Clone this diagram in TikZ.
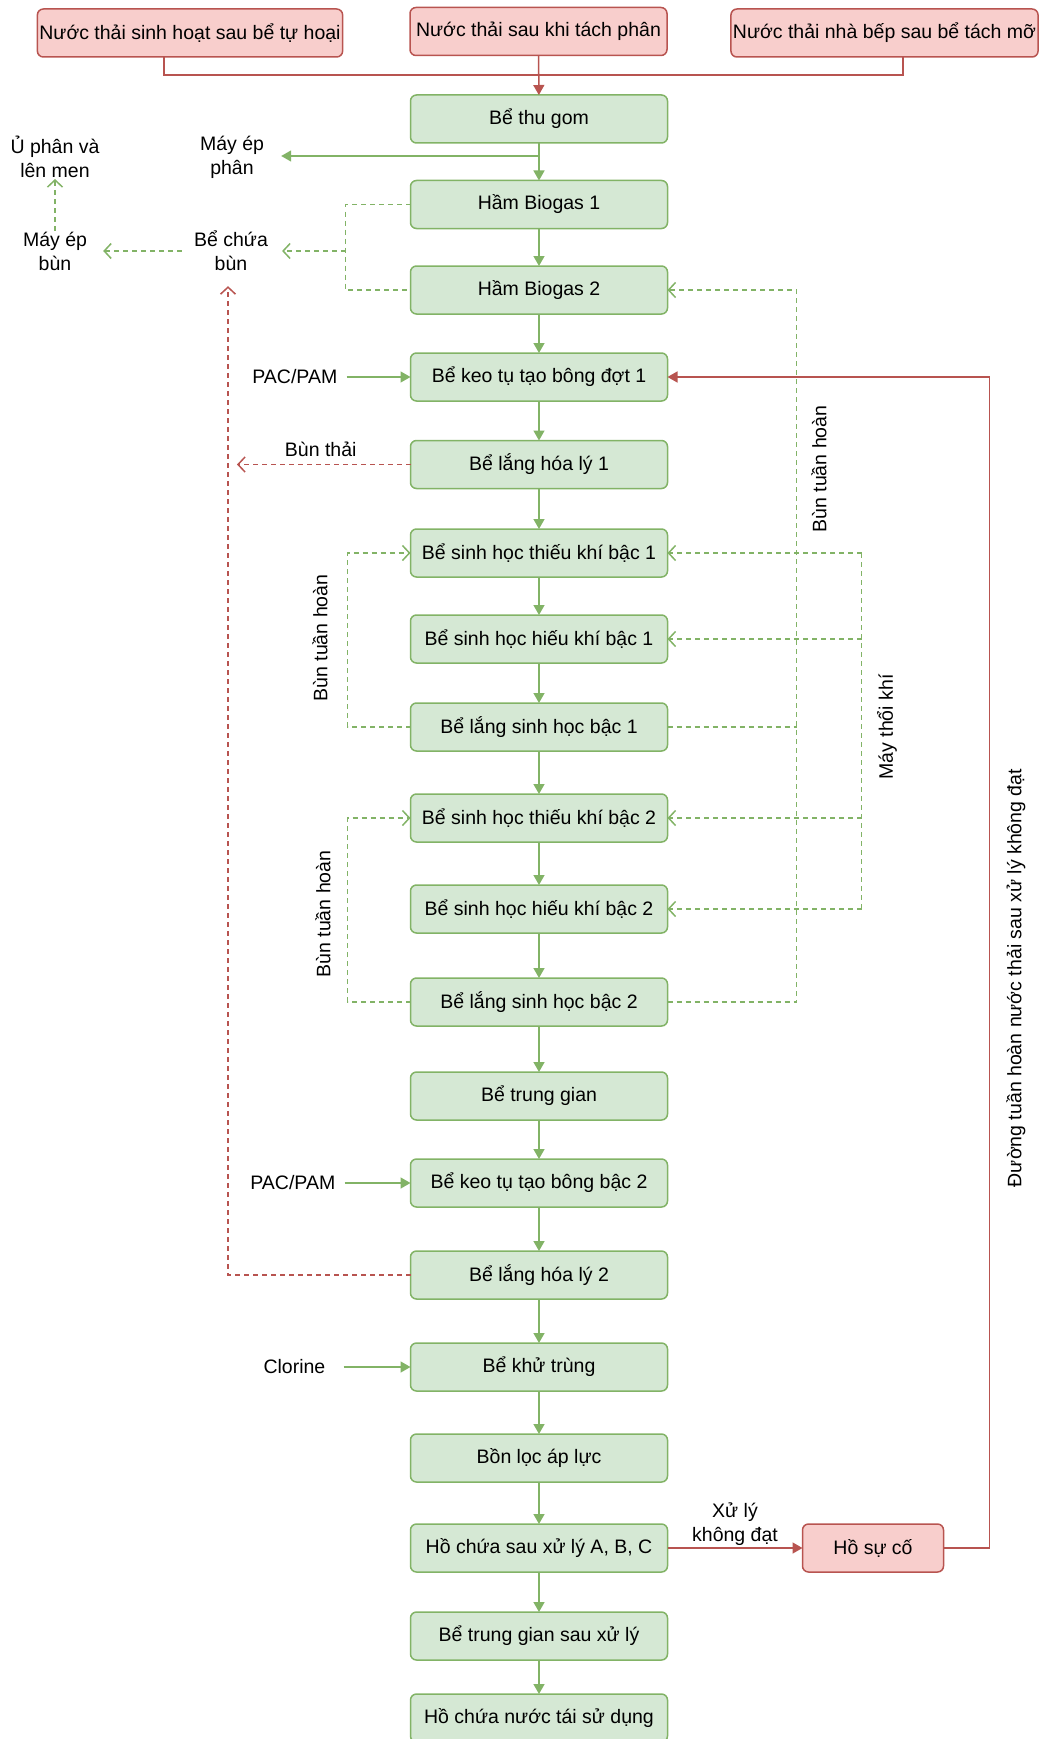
\documentclass[tikz,border=0pt]{standalone}
\usepackage{fontspec}
\setmainfont{Liberation Sans}
\usetikzlibrary{arrows.meta,positioning}
\definecolor{gfill}{HTML}{D5E8D4}
\definecolor{gline}{HTML}{82B366}
\definecolor{rfill}{HTML}{F8CECC}
\definecolor{rline}{HTML}{B85450}

\begin{document}
\begin{tikzpicture}[
		x=1pt, y=-1pt,
		font=\fontsize{19.5}{24}\selectfont,
		block/.style={draw=gline, fill=gfill, line width=1.5pt, rounded corners=6pt, minimum width=257pt, minimum height=48pt, inner sep=2pt, outer sep=0pt},
		src/.style={draw=rline, fill=rfill, line width=1.5pt, rounded corners=6pt, minimum height=48pt, inner sep=2pt, outer sep=0pt},
		note/.style={align=center, inner sep=1pt},
		flow/.style={draw=gline, line width=1.5pt, -{Triangle[length=10pt, width=11pt]}},
		dashline/.style={draw=gline, line width=1.5pt, dash pattern=on 5pt off 4pt},
		sludge/.style={dashline, -{Straight Barb[length=7pt, width=15pt]}},
		redline/.style={draw=rline, line width=1.5pt},
		redflow/.style={redline, -{Triangle[length=10pt, width=11pt]}},
		reddash/.style={redline, dash pattern=on 5pt off 4pt, -{Straight Barb[length=7pt, width=15pt]}},
	]
		\useasboundingbox (0,0) rectangle (1039,1739);
		
		\node[src, minimum width=304pt] (src1) at (190,33) {Nước thải sinh hoạt sau bể tự hoại};
		\node[src, minimum width=257pt] (src2) at (538.5,31.5) {Nước thải sau khi tách phân};
		\node[src, minimum width=305pt] (src3) at (884.5,33) {Nước thải nhà bếp sau bể tách mỡ};
		
		\node[block] (thugom) at (539,119) {Bể thu gom};
		\node[block, below=37.5pt of thugom] (hb1) {Hầm Biogas 1};
		\node[block, below=37.5pt of hb1] (hb2) {Hầm Biogas 2};
		\node[block, below=39pt of hb2] (keo1) {Bể keo tụ tạo bông đợt 1};
		\node[block, below=39.5pt of keo1] (lang1) {Bể lắng hóa lý 1};
		\node[block, below=40.5pt of lang1] (thieu1) {Bể sinh học thiếu khí bậc 1};
		\node[block, below=38pt of thieu1] (hieu1) {Bể sinh học hiếu khí bậc 1};
		\node[block, below=40pt of hieu1] (langsh1) {Bể lắng sinh học bậc 1};
		\node[block, below=43pt of langsh1] (thieu2) {Bể sinh học thiếu khí bậc 2};
		\node[block, below=43pt of thieu2] (hieu2) {Bể sinh học hiếu khí bậc 2};
		\node[block, below=45pt of hieu2] (langsh2) {Bể lắng sinh học bậc 2};
		\node[block, below=46pt of langsh2] (trunggian) {Bể trung gian};
		\node[block, below=39pt of trunggian] (keo2) {Bể keo tụ tạo bông bậc 2};
		\node[block, below=44pt of keo2] (lang2) {Bể lắng hóa lý 2};
		\node[block, below=44pt of lang2] (khutrung) {Bể khử trùng};
		\node[block, below=43pt of khutrung] (bonloc) {Bồn lọc áp lực};
		\node[block, below=42pt of bonloc] (hochua) {Hồ chứa sau xử lý A, B, C};
		\node[block, below=40pt of hochua] (tgsau) {Bể trung gian sau xử lý};
		\node[block, below=34pt of tgsau] (taisd) {Hồ chứa nước tái sử dụng};
		
		\node[src, minimum width=141pt, right=135pt of hochua] (suco) {Hồ sự cố};
		
		% side labels
		\node[note] (uphan) at (55,157) {Ủ phân và\\lên men};
		\node[note] (mayep) at (232,157.5) {Máy ép\\phân};
		\node[note] (mayepbun) at (55,251) {Máy ép\\bùn};
		\node[note] (bechua) at (231,251) {Bể chứa\\bùn};
		\node[note, left=72pt of keo1] (pac1) {PAC/PAM};
		\node[note, left=74pt of keo2] (pac2) {PAC/PAM};
		\node[note, left=84pt of khutrung] (clorine) {Clorine};
		\node[note, rotate=90] at (320,638) {Bùn tuần hoàn};
		\node[note, rotate=90] at (323,914) {Bùn tuần hoàn};
		\node[note, rotate=90] at (819,469) {Bùn tuần hoàn};
		\node[note, rotate=90] at (887,727) {Máy thổi khí};
		\node[note, rotate=90] at (1016,978) {Đường tuần hoàn nước thải sau xử lý không đạt};
		
		% inflow
		\draw[redline] ([xshift=-26pt]src1.south) -- ++(0,18) -| ([xshift=18.5pt]src3.south);
		\draw[redflow] (src2) -- (thugom);
		
		% main line
		\foreach \a/\b in {thugom/hb1, hb1/hb2, hb2/keo1, keo1/lang1, lang1/thieu1, thieu1/hieu1, hieu1/langsh1, langsh1/thieu2, thieu2/hieu2, hieu2/langsh2, langsh2/trunggian, trunggian/keo2, keo2/lang2, lang2/khutrung, khutrung/bonloc, bonloc/hochua, hochua/tgsau, tgsau/taisd}
			\draw[flow] (\a) -- (\b);
		
		\coordinate (split) at ([yshift=-13pt]thugom.south);
		\draw[flow, shorten >=16pt] (split) -- (split -| mayep.east);
		\draw[flow, shorten <=8pt] (pac1) -- (keo1);
		\draw[flow, shorten <=8pt] (pac2) -- (keo2);
		\draw[flow, shorten <=17pt] (clorine) -- (khutrung);
		
		% sludge
		\draw[dashline] (hb1.west) -- ++(-65,0) coordinate (hbx) |- (hb2.west);
		\draw[sludge, shorten >=13pt] (hbx |- bechua.east) -- (bechua.east);
		\draw[sludge, shorten <=11pt, shorten >=15pt] (bechua.west) -- (mayepbun.east);
		\draw[sludge] (mayepbun) -- (uphan);
		\draw[reddash, shorten >=6pt] (lang1.west) -- (lang1.west -| bechua.south) node[midway, above=6pt, note] {Bùn thải};
		\draw[reddash, shorten >=14pt] (lang2.west) -| ([xshift=-3pt]bechua.south);
		
		\draw[sludge] (langsh1.west) -- ++(-63,0) |- (thieu1.west);
		\draw[sludge] (langsh2.west) -- ++(-63,0) |- (thieu2.west);
		
		\coordinate (rec) at ([xshift=129pt]hb2.east);
		\draw[sludge] (langsh2.east) -| (rec) -- (hb2.east);
		\draw[dashline] (langsh1.east) -- (langsh1.east -| rec);
		
		\coordinate (air) at ([xshift=194pt]thieu1.east);
		\draw[dashline] (air) -- (air |- hieu2.east);
		\foreach \t in {thieu1, hieu1, thieu2, hieu2}
			\draw[sludge] (air |- \t.east) -- (\t.east);
		
		% failed treatment
		\draw[redflow] (hochua) -- (suco) node[midway, above=1pt, note] {Xử lý\\không đạt};
		\draw[redflow] (suco.east) -- ++(46,0) |- (keo1.east);
	\end{tikzpicture}
\end{document}
